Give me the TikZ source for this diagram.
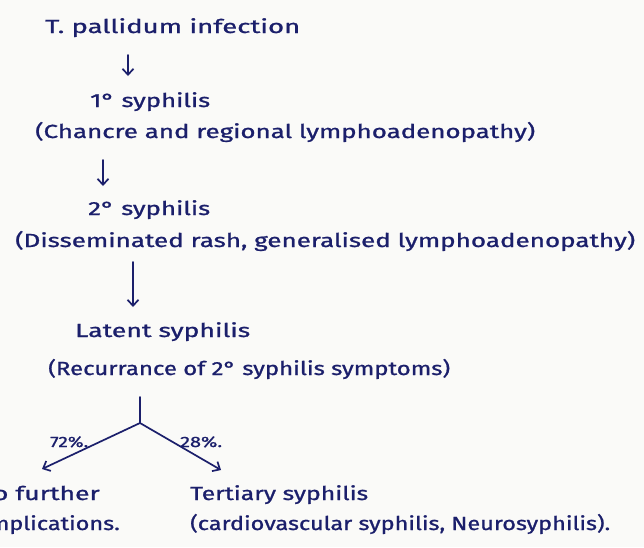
\documentclass[tikz,border=0pt]{standalone}
\usepackage{fontspec}
\setmainfont{Fira Sans}[FakeBold=0.9]
\usepackage{graphicx}
\usetikzlibrary{arrows.meta}
\definecolor{ink}{HTML}{1B1F6B}
\definecolor{paper}{HTML}{FAFAF8}
\newcommand{\fitto}[2]{\resizebox{#1pt}{\height}{#2}}
\tikzset{
  txt/.style={anchor=base west, inner sep=0pt, text=ink, font=\fontsize{19}{22}\selectfont},
  pct/.style={anchor=base west, inner sep=0pt, text=ink, font=\fontsize{15}{18}\selectfont},
  flow/.style={draw=ink, line width=1.7pt, line cap=round, -{Straight Barb[length=6pt,width=11pt]}},
  stem/.style={draw=ink, line width=1.7pt, line cap=round}
}
\begin{document}
\begin{tikzpicture}[x=1pt,y=-1pt]
\fill[paper] (0,0) rectangle (644,547);
\useasboundingbox (0,0) rectangle (644,547);
\clip (0,0) rectangle (644,547);
% texts
\node[txt] (inf) at (45,33) {\fitto{255}{T. pallidum infection}};
\node[txt] (p1) at (90,107) {\fitto{120}{1° syphilis}};
\node[txt] (p1d) at (35,138) {\fitto{500}{(Chancre and regional lymphoadenopathy)}};
\node[txt] (p2) at (88,215) {\fitto{122}{2° syphilis}};
\node[txt] (p2d) at (15,247) {\fitto{620}{(Disseminated rash, generalised lymphoadenopathy)}};
\node[txt] (lat) at (75,337) {\fitto{175}{Latent syphilis}};
\node[txt] (latd) at (48,375) {\fitto{402}{(Recurrance of 2° syphilis symptoms)}};
\node[pct] (p72) at (50,447) {\fitto{38}{72\%.}};
\node[pct] (p28) at (180,447) {\fitto{42}{28\%.}};
\node[txt, anchor=base east] (nf1) at (100,500) {\fitto{125}{No further}};
\node[txt, anchor=base east] (nf2) at (120,530) {\fitto{155}{complications.}};
\node[txt] (ter) at (190,500) {\fitto{178}{Tertiary syphilis}};
\node[txt] (terd) at (190,530) {\fitto{420}{(cardiovascular syphilis, Neurosyphilis).}};
% arrow points
\coordinate (a1s) at (128,55);
\coordinate (a1e) at (128,76);
\coordinate (a2s) at (103,160);
\coordinate (a2e) at (103,186);
\coordinate (a3s) at (133,262);
\coordinate (a3e) at (133,307);
\coordinate (t0) at (140,397);
\coordinate (t1) at (140,423);
\coordinate (tl) at (42,469);
\coordinate (tr) at (221,470);
\draw[flow] (a1s) -- (a1e);
\draw[flow] (a2s) -- (a2e);
\draw[flow] (a3s) -- (a3e);
\draw[stem] (t0) -- (t1);
\draw[flow] (t1) -- (tl);
\draw[flow] (t1) -- (tr);
\end{tikzpicture}
\end{document}
